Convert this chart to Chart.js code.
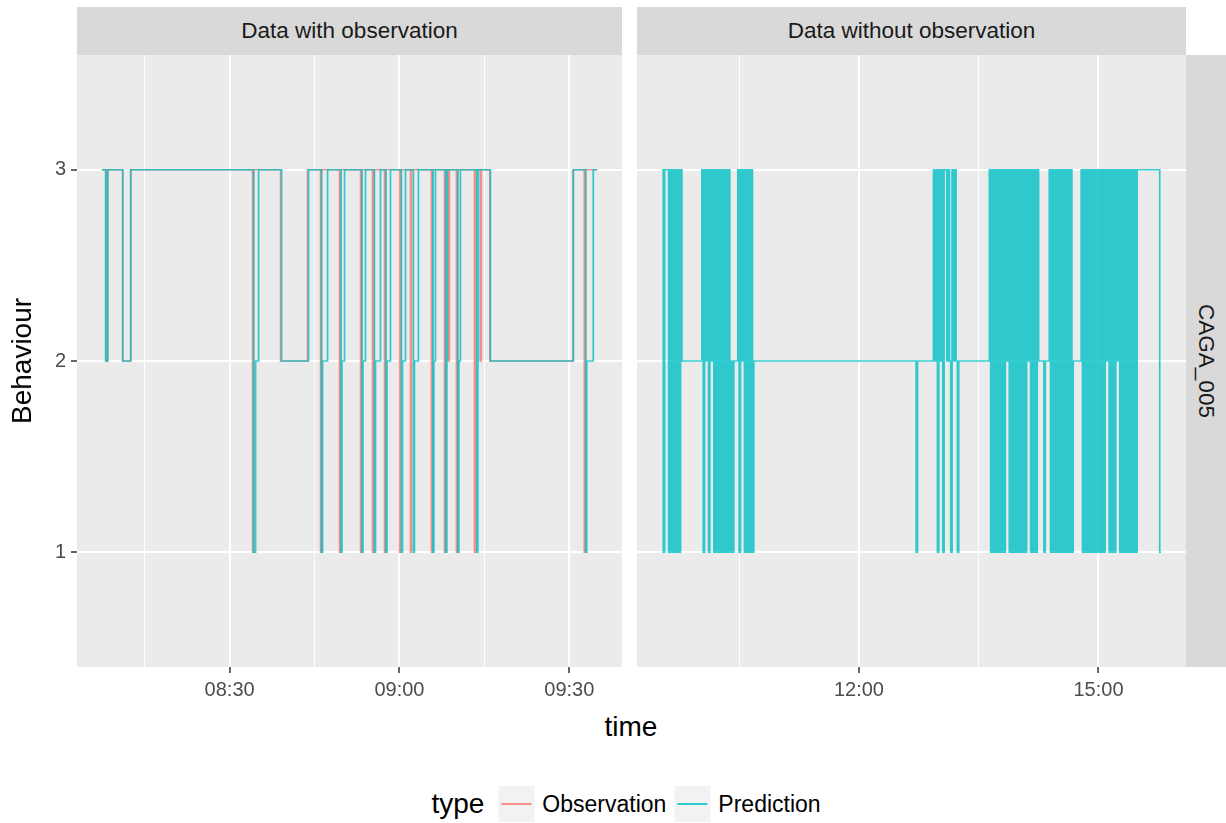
<!DOCTYPE html>
<html>
<head>
<meta charset="utf-8">
<title>CAGA_005 behaviour</title>
<script src="https://cdn.jsdelivr.net/npm/chart.js@4.4.1/dist/chart.umd.min.js"></script>
<style>
  body { margin: 0; background: #ffffff; }
  #plot { position: relative; width: 1226px; height: 823px; overflow: hidden;
          font-family: "Liberation Sans", Arial, sans-serif; }
  #plot canvas { position: absolute; }
  .strip { position: absolute; background: #d9d9d9; color: #1a1a1a; font-size: 22.5px;
           display: flex; align-items: center; justify-content: center; white-space: nowrap; }
  .strip-y span { transform: rotate(90deg); }
  .title { position: absolute; color: #000; font-size: 28px; white-space: nowrap; }
  #legend { position: absolute; top: 786px; left: 630px; transform: translateX(-50%);
            display: flex; align-items: center; font-size: 23px; color: #000; white-space: nowrap; }
  #legend .name { font-size: 28px; margin-right: 14px; }
  #legend .key { width: 36px; height: 36px; background: #f2f2f2; position: relative; margin-right: 8px; }
  #legend .key i { position: absolute; left: 3px; right: 3px; top: 17px; height: 2px; }
  #legend .lab { margin-right: 8px; }
</style>
</head>
<body>
<div id="plot">
  <div class="strip" style="left:77px;top:7px;width:545px;height:48px">Data with observation</div>
  <div class="strip" style="left:637px;top:7px;width:549px;height:48px">Data without observation</div>
  <div class="strip strip-y" style="left:1186px;top:55px;width:40px;height:612px"><span>CAGA_005</span></div>
  <canvas id="withObs" width="622" height="652" style="left:0;top:55px"></canvas>
  <canvas id="withoutObs" width="549" height="652" style="left:637px;top:55px"></canvas>
  <div class="title" style="left:631px;top:727px;transform:translate(-50%,-50%)">time</div>
  <div class="title" style="left:22px;top:361px;transform:translate(-50%,-50%) rotate(-90deg)">Behaviour</div>
  <div id="legend"></div>
</div>
<script>
// --- data ---
const yBreaks = [1, 2, 3];

// panel 1: data with observation
const obsTime = ['08:07:25','08:08:07','08:08:28','08:11:07','08:12:32',
  '08:34:04','08:34:14','08:39:00','08:43:46',
  '08:46:04','08:46:14','08:49:25','08:49:35','08:53:08','08:53:18','08:55:15','08:55:25',
  '08:57:22','08:57:32','09:00:01','09:00:11','09:01:57','09:02:07','09:05:39','09:05:49',
  '09:07:57','09:08:07','09:08:39','09:08:49','09:10:04','09:10:14',
  '09:13:15','09:13:25','09:14:18','09:14:28','09:15:58','09:30:42',
  '09:32:39','09:32:49','09:34:56'];
const obsBehaviour = [3,2,3,2,3,
  1,3,2,3,
  1,3,1,3,1,3,1,3,
  1,3,1,3,1,3,1,3,
  1,3,2,3,1,3,
  1,3,2,3,2,3,
  1,3,3];

const predTime = ['08:07:25','08:08:07','08:08:28','08:11:07','08:12:32',
  '08:34:14','08:34:35','08:35:07','08:39:11','08:43:56',
  '08:46:14','08:46:25','08:47:18','08:49:41','08:49:51','08:50:18',
  '08:53:23','08:53:33','08:54:00','08:55:35','08:55:46','08:56:39',
  '08:57:37','08:57:48','08:58:25','09:00:21','09:00:32','09:01:04',
  '09:02:28','09:02:39','09:03:21','09:05:55','09:06:05','09:06:21',
  '09:08:12','09:08:23','09:08:28','09:10:19','09:10:30','09:10:46',
  '09:13:40','09:13:51','09:13:56','09:16:04','09:30:42',
  '09:32:55','09:33:05','09:34:14','09:34:56'];
const predBehaviour = [3,2,3,2,3,
  1,2,3,2,3,
  1,2,3,1,2,3,
  1,2,3,1,2,3,
  1,2,3,1,2,3,
  1,2,3,1,2,3,
  1,2,3,1,2,3,
  1,2,3,2,3,
  1,2,3,3];

// panel 2: data without observation (prediction only)
const noObsTime = [
  '09:32','09:33','09:34','09:37','09:38','09:39','09:40','09:41','09:42','09:43','09:44','09:45','09:46','09:47',
  '10:02','10:03','10:04','10:05','10:06','10:07','10:08','10:09','10:10','10:11','10:12','10:13','10:14',
  '10:15','10:16','10:17','10:18','10:19','10:20','10:21','10:22','10:23','10:24','10:25','10:26',
  '10:29','10:30','10:31','10:32','10:33','10:34','10:35','10:36','10:37','10:38','10:39','10:40','10:41',
  '12:43','12:44',
  '12:56','12:57','12:58','12:59','13:00','13:01','13:02','13:03','13:04','13:06','13:07','13:08','13:09',
  '13:10','13:11','13:12','13:13','13:14','13:15',
  '13:38','13:39','13:40','13:41','13:42','13:43','13:44','13:45','13:46','13:47','13:48','13:49','13:50',
  '13:51','13:52','13:53','13:54','13:55','13:56','13:57','13:58','13:59','14:00','14:01','14:02','14:03',
  '14:04','14:05','14:06','14:07','14:08','14:09','14:10','14:11','14:12','14:13','14:14','14:15',
  '14:19','14:20',
  '14:23','14:24','14:25','14:26','14:27','14:28','14:29','14:30','14:31','14:32','14:33','14:34','14:35',
  '14:36','14:37','14:38','14:39','14:40','14:41',
  '14:47','14:48','14:49','14:50','14:51','14:52','14:53','14:54','14:55','14:56','14:57','14:58','14:59',
  '15:00','15:01','15:02','15:03','15:04','15:05','15:06','15:07','15:08','15:09','15:10','15:11','15:12',
  '15:13','15:14','15:15','15:16','15:17','15:18','15:19','15:20','15:21','15:22','15:23','15:24','15:25',
  '15:26','15:27','15:28','15:29',
  '15:46','15:47'];
const noObsBehaviour = [
  3,1,3,1,3,1,3,1,3,1,3,1,3,2,
  3,1,3,2,3,1,3,2,3,1,3,1,3,1,3,1,3,1,3,1,3,1,2,1,2,3,1,3,2,3,1,3,1,3,1,3,1,2,
  1,2,
  3,2,3,1,3,2,3,1,3,2,3,2,1,3,2,3,2,1,2,
  3,1,3,1,3,1,3,1,3,1,3,1,3, 2, 3,1,3,1,3,1,3,1,3,1,3,1,3,1,3, 2, 3,1,3,1,3,1,3, 2,
  1,2,
  3,1,3,1,3,1,3,1,3,1,3,1,3,1,3,1,3,1,2,
  3,1,3,1,3,1,3,1,3,1,3,1,3,1,3,1,3,1,3, 2, 3,1,3,1,3,1,3, 2, 3,1,3,1,3,1,3,1,3,1,3,1,3,1,3,
  1,1];

// axis breaks
const leftBreaks = ['08:30', '09:00', '09:30'];
const leftMinorBreaks = ['08:15', '08:45', '09:15'];
const rightBreaks = ['12:00', '15:00'];
const rightMinorBreaks = ['10:30', '13:30'];

const obsColor = 'rgba(248,118,109,0.8)';
const predColor = 'rgba(0,191,196,0.8)';

// --- helpers ---
function toMin(s) {
  const p = s.split(':').map(Number);
  return p[0] * 60 + p[1] + (p[2] || 0) / 60;
}
function pad2(n) { return (n < 10 ? '0' : '') + n; }
function fmt(m) { return pad2(Math.floor(m / 60)) + ':' + pad2(Math.round(m % 60)); }
function points(times, values) {
  return times.map(function(t, i) { return {x: toMin(t), y: values[i]}; });
}
// ggplot style 5% expansion of the data range
function expand(times) {
  const v = times.map(toMin);
  const lo = Math.min.apply(null, v), hi = Math.max.apply(null, v);
  const d = (hi - lo) * 0.05;
  return [lo - d, hi + d];
}

const panelBg = {
  id: 'panelBg',
  beforeDraw: function(chart) {
    const a = chart.chartArea, ctx = chart.ctx;
    ctx.save();
    ctx.fillStyle = '#ebebeb';
    ctx.fillRect(a.left, a.top, a.right - a.left, a.bottom - a.top);
    ctx.restore();
  }
};

function makePanel(id, datasets, range, majors, minors, showY) {
  const majorVals = majors.map(toMin);
  const allVals = majorVals.concat(minors.map(toMin)).sort(function(a, b) { return a - b; });
  const isMajor = function(v) { return majorVals.indexOf(v) >= 0; };
  const ctx = document.getElementById(id).getContext('2d');
  return new Chart(ctx, {
    type: 'line',
    data: { datasets: datasets },
    options: {
      responsive: false,
      animation: false,
      events: [],
      layout: { padding: 0, autoPadding: false },
      plugins: { legend: { display: false }, tooltip: { enabled: false } },
      scales: {
        x: {
          type: 'linear',
          min: range[0],
          max: range[1],
          border: { display: false },
          afterBuildTicks: function(scale) {
            scale.ticks = allVals.map(function(v) { return {value: v}; });
          },
          afterFit: function(scale) {
            scale.height = 40;
            scale.paddingLeft = 0; scale.paddingRight = 0;
          },
          grid: {
            color: '#ffffff',
            lineWidth: function(c) { return c.tick && isMajor(c.tick.value) ? 2 : 1; },
            tickColor: function(c) { return c.tick && isMajor(c.tick.value) ? '#333333' : 'rgba(0,0,0,0)'; },
            tickWidth: 1.5,
            tickLength: 6
          },
          ticks: {
            autoSkip: false,
            maxRotation: 0,
            padding: 5,
            color: '#4d4d4d',
            font: { family: '"Liberation Sans", Arial, sans-serif', size: 20 },
            callback: function(value) { return isMajor(value) ? fmt(value) : ''; }
          }
        },
        y: {
          type: 'linear',
          min: 0.4,
          max: 3.6,
          border: { display: false },
          afterBuildTicks: function(scale) {
            scale.ticks = yBreaks.map(function(v) { return {value: v}; });
          },
          afterFit: function(scale) {
            scale.width = showY ? 77 : 0;
            scale.paddingTop = 0; scale.paddingBottom = 0;
          },
          grid: {
            color: '#ffffff',
            lineWidth: 2,
            drawTicks: showY,
            tickColor: '#333333',
            tickWidth: 1.5,
            tickLength: 6
          },
          ticks: {
            display: showY,
            padding: 5,
            color: '#4d4d4d',
            font: { family: '"Liberation Sans", Arial, sans-serif', size: 20 },
            callback: function(value) { return String(value); }
          }
        }
      }
    },
    plugins: [panelBg]
  });
}

function stepSet(label, pts, color) {
  return { label: label, data: pts, borderColor: color, borderWidth: 1.7,
           stepped: true, pointRadius: 0, fill: false };
}

document.addEventListener('DOMContentLoaded', function() {
  // first dataset is drawn on top
  makePanel('withObs', [
    stepSet('Prediction', points(predTime, predBehaviour), predColor),
    stepSet('Observation', points(obsTime, obsBehaviour), obsColor)
  ], expand(predTime.concat(obsTime)), leftBreaks, leftMinorBreaks, true);

  makePanel('withoutObs', [
    stepSet('Prediction', points(noObsTime, noObsBehaviour), predColor)
  ], expand(noObsTime), rightBreaks, rightMinorBreaks, false);

  // legend (ggplot style, below the panels)
  const legend = document.getElementById('legend');
  let html = '<span class="name">type</span>';
  [['Observation', obsColor], ['Prediction', predColor]].forEach(function(it) {
    html += '<span class="key"><i style="background:' + it[1] + '"></i></span><span class="lab">' + it[0] + '</span>';
  });
  legend.innerHTML = html;
});
</script>
</body>
</html>
